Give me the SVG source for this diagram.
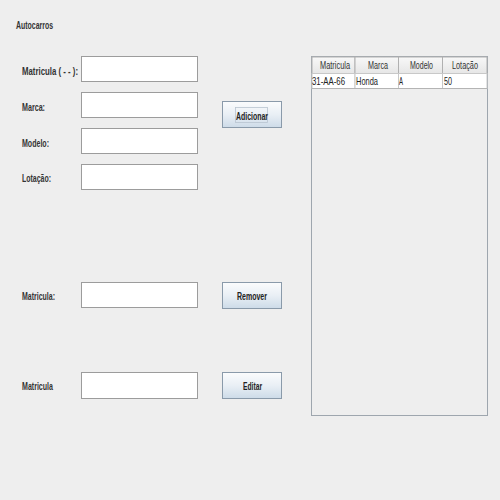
<svg xmlns="http://www.w3.org/2000/svg" width="500" height="500" viewBox="0 0 500 500">
<defs>
<linearGradient id="btn" x1="0" y1="0" x2="0" y2="1">
<stop offset="0" stop-color="#fbfcfd"/>
<stop offset="0.5" stop-color="#e9eff5"/>
<stop offset="1" stop-color="#cddbe8"/>
</linearGradient>
<linearGradient id="hdr" x1="0" y1="0" x2="0" y2="1">
<stop offset="0" stop-color="#f8f8f8"/>
<stop offset="1" stop-color="#e6e6e6"/>
</linearGradient>
</defs>
<style>
text{font-family:"Liberation Sans",Arial,sans-serif;font-size:11px;fill:#222}
.lbl{font-weight:bold;fill:#333}
.tf{fill:#fff;stroke:#9c9c9c;stroke-width:1}
.bt{fill:url(#btn);stroke:#8a9aaa;stroke-width:1}
.bt-t{font-weight:bold;fill:#222}
.cell{fill:#fff;stroke:#c8c8c8;stroke-width:1}
.hd{fill:url(#hdr);stroke:#b0b0b0;stroke-width:1}
.ht{fill:#333}
</style>
<rect x="0" y="0" width="500" height="500" fill="#eeeeee"/>

<g id="title"><text class="lbl" x="16" y="29" textLength="37" lengthAdjust="spacingAndGlyphs">Autocarros</text></g>

<g id="matricula-add">
<text class="lbl" x="22" y="75" textLength="56" lengthAdjust="spacingAndGlyphs">Matricula ( - - ):</text>
<rect class="tf" x="81.5" y="56.5" width="116" height="25"/>
</g>
<g id="marca">
<text class="lbl" x="22" y="111" textLength="23" lengthAdjust="spacingAndGlyphs">Marca:</text>
<rect class="tf" x="81.5" y="92.5" width="116" height="25"/>
</g>
<g id="modelo">
<text class="lbl" x="22" y="147" textLength="27" lengthAdjust="spacingAndGlyphs">Modelo:</text>
<rect class="tf" x="81.5" y="128.5" width="116" height="25"/>
</g>
<g id="lotacao">
<text class="lbl" x="22" y="182" textLength="29" lengthAdjust="spacingAndGlyphs">Lotação:</text>
<rect class="tf" x="81.5" y="164.5" width="116" height="25"/>
</g>
<g id="btn-adicionar">
<rect class="bt" x="222.5" y="101.5" width="59" height="26"/>
<rect x="235.5" y="107.5" width="32" height="15" fill="none" stroke="#b8c4d0" stroke-width="0.8"/>
<text class="bt-t" x="236" y="120" textLength="32" lengthAdjust="spacingAndGlyphs">Adicionar</text>
</g>

<g id="matricula-remove">
<text class="lbl" x="22" y="300" textLength="33" lengthAdjust="spacingAndGlyphs">Matricula:</text>
<rect class="tf" x="81.5" y="282.5" width="116" height="25"/>
</g>
<g id="btn-remover">
<rect class="bt" x="222.5" y="282.5" width="59" height="26"/>
<text class="bt-t" x="237" y="300" textLength="30" lengthAdjust="spacingAndGlyphs">Remover</text>
</g>

<g id="matricula-edit">
<text class="lbl" x="22" y="390" textLength="31" lengthAdjust="spacingAndGlyphs">Matricula</text>
<rect class="tf" x="81.5" y="372.5" width="116" height="26"/>
</g>
<g id="btn-editar">
<rect class="bt" x="222.5" y="372.5" width="59" height="26"/>
<text class="bt-t" x="243" y="390" textLength="19" lengthAdjust="spacingAndGlyphs">Editar</text>
</g>

<g id="table">
<rect x="311.5" y="56.5" width="176" height="359" fill="#eeeeee" stroke="#9ea6ae" stroke-width="1"/>
<rect class="hd" x="312" y="57" width="43" height="16.5"/>
<rect class="hd" x="355" y="57" width="43.5" height="16.5"/>
<rect class="hd" x="398.5" y="57" width="44" height="16.5"/>
<rect class="hd" x="442.5" y="57" width="44.5" height="16.5"/>
<text class="ht" x="320" y="69" textLength="30" lengthAdjust="spacingAndGlyphs">Matricula</text>
<text class="ht" x="368" y="69" textLength="20" lengthAdjust="spacingAndGlyphs">Marca</text>
<text class="ht" x="410" y="69" textLength="23" lengthAdjust="spacingAndGlyphs">Modelo</text>
<text class="ht" x="452" y="69" textLength="26" lengthAdjust="spacingAndGlyphs">Lotação</text>
<rect class="cell" x="312" y="73.5" width="43" height="15"/>
<rect class="cell" x="355" y="73.5" width="43.5" height="15"/>
<rect class="cell" x="398.5" y="73.5" width="44" height="15"/>
<rect class="cell" x="442.5" y="73.5" width="44.5" height="15"/>
<line x1="312" y1="88.5" x2="487" y2="88.5" stroke="#b4b4b4" stroke-width="1"/>
<text x="312" y="85" textLength="33" lengthAdjust="spacingAndGlyphs">31-AA-66</text>
<text x="356" y="85" textLength="22" lengthAdjust="spacingAndGlyphs">Honda</text>
<text x="399" y="85" textLength="4" lengthAdjust="spacingAndGlyphs">A</text>
<text x="444" y="85" textLength="8" lengthAdjust="spacingAndGlyphs">50</text>
</g>
</svg>
